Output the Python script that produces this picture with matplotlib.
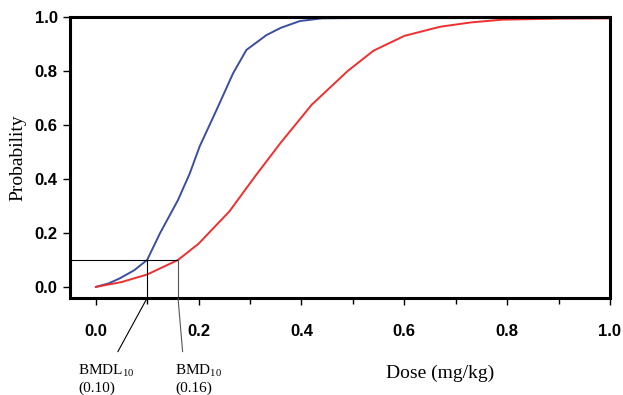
import numpy as np
import matplotlib
matplotlib.use("Agg")
import matplotlib.pyplot as plt

dose_lower = [0.0, 0.025, 0.047, 0.075, 0.10, 0.125, 0.16, 0.183, 0.202, 0.235,
              0.267, 0.293, 0.332, 0.36, 0.397, 0.44, 0.50, 0.70, 1.0]
prob_lower = [0.0, 0.013, 0.032, 0.062, 0.10, 0.199, 0.322, 0.421, 0.52, 0.656,
              0.791, 0.878, 0.933, 0.96, 0.985, 0.995, 0.996, 0.996, 0.996]

dose_model = [0.0, 0.05, 0.10, 0.16, 0.20, 0.26, 0.31, 0.36, 0.42, 0.49,
              0.54, 0.60, 0.67, 0.73, 0.79, 0.90, 1.0]
prob_model = [0.0, 0.018, 0.046, 0.10, 0.16, 0.28, 0.41, 0.535, 0.675, 0.80,
              0.875, 0.93, 0.964, 0.98, 0.99, 0.994, 0.995]

bmdl = 0.10
bmd = 0.16
bmr = 0.10

x_ticks = [0.0, 0.2, 0.4, 0.6, 0.8, 1.0]
y_ticks = [0.0, 0.2, 0.4, 0.6, 0.8, 1.0]

tick_font = ['Liberation Sans Narrow', 'Liberation Sans', 'DejaVu Sans']
label_font = ['Liberation Serif', 'DejaVu Serif']
plt.rcParams['mathtext.fontset'] = 'custom'
plt.rcParams['mathtext.rm'] = 'Liberation Serif'

# ==============================================================================
fig = plt.figure(figsize=(6.23, 3.95), dpi=100)
ax = fig.add_axes([70/623, 1 - 298/395, 540/623, 281/395])

ax.plot(dose_lower, prob_lower, color='#3b4ea0', lw=1.4, solid_capstyle='round',
        solid_joinstyle='round')
ax.plot(dose_model, prob_model, color='#ee2f2f', lw=1.4, solid_capstyle='round',
        solid_joinstyle='round')

ylo = -0.041
ax.set_xlim(-0.05, 1.0)
ax.set_ylim(ylo, 1.0)

# BMR reference lines
ax.plot([-0.05, bmd], [bmr, bmr], color='black', lw=0.8)
ax.plot([bmdl, bmdl], [ylo, bmr], color='black', lw=0.8)
ax.plot([bmd, bmd], [ylo, bmr], color='#555555', lw=0.8)

for s in ax.spines.values():
    s.set_linewidth(2.2)
    s.set_color('black')

ax.set_xticks(x_ticks)
ax.set_xticks(np.arange(0.1, 1.0, 0.2), minor=True)
ax.set_yticks(y_ticks)
ax.set_xticklabels(["%.1f" % v for v in x_ticks], family=tick_font, fontsize=12, weight='bold')
ax.set_yticklabels(["%.1f" % v for v in y_ticks], family=tick_font, fontsize=12, weight='bold')
ax.tick_params(axis='both', which='both', direction='out', length=5, width=1.0, pad=14)
ax.tick_params(axis='y', pad=4)
ax.tick_params(axis='x', which='minor', length=4)

ax.set_ylabel("Probability", family=label_font, fontsize=14, labelpad=6)
fig.text(440/623, 1 - 373/395, "Dose (mg/kg)", family=label_font, fontsize=14,
         ha='center', va='center')

# leader lines and labels under the axis
ax.annotate("", xy=(bmdl, ylo), xytext=(0.043, -0.24), annotation_clip=False,
            arrowprops=dict(arrowstyle='-', color='black', lw=0.8, shrinkA=0, shrinkB=0))
ax.annotate("", xy=(bmd, ylo), xytext=(0.169, -0.24), annotation_clip=False,
            arrowprops=dict(arrowstyle='-', color='#555555', lw=0.8, shrinkA=0, shrinkB=0))

fig.text(78/623, 1 - 371/395, r"BMDL$_{\mathrm{10}}$", family=label_font, fontsize=11,
         ha='left', va='center')
fig.text(78/623, 1 - 388/395, "(0.10)", family=label_font, fontsize=11,
         ha='left', va='center')
fig.text(175/623, 1 - 371/395, r"BMD$_{\mathrm{10}}$", family=label_font, fontsize=11,
         ha='left', va='center')
fig.text(175/623, 1 - 388/395, "(0.16)", family=label_font, fontsize=11,
         ha='left', va='center')

fig.savefig("out.png", dpi=100)
